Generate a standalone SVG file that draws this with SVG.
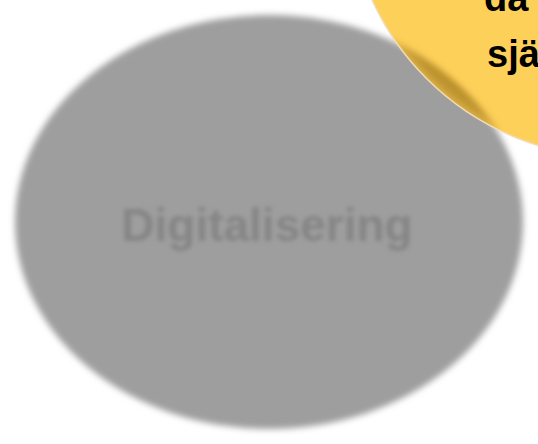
<svg xmlns="http://www.w3.org/2000/svg" width="538" height="444" viewBox="0 0 538 444">
  <defs>
    <style>
      .lbl { font-family: "Liberation Sans", Arial, sans-serif; font-weight: bold; }
    </style>
    <filter id="blurEll" x="-10%" y="-10%" width="120%" height="120%">
      <feGaussianBlur stdDeviation="3"/>
    </filter>
    <filter id="blurTxt" x="-10%" y="-30%" width="120%" height="160%">
      <feGaussianBlur stdDeviation="2.2"/>
    </filter>
    <filter id="blurBand" x="-20%" y="-20%" width="140%" height="140%">
      <feGaussianBlur stdDeviation="7"/>
    </filter>
    <clipPath id="circClip">
      <circle cx="616" cy="-111" r="268"/>
    </clipPath>
    <mask id="ellMask" maskUnits="userSpaceOnUse" x="0" y="0" width="538" height="444">
      <ellipse cx="269" cy="222" rx="254" ry="207" fill="#fff" filter="url(#blurEll)"/>
    </mask>
  </defs>
  <rect width="538" height="444" fill="#ffffff"/>

  <g id="node-digitalisering">
    <ellipse cx="269" cy="222" rx="254" ry="207" fill="#9e9e9e" filter="url(#blurEll)"/>
    <text class="lbl" x="267" y="241" font-size="46" text-anchor="middle" fill="#858585" filter="url(#blurTxt)">Digitalisering</text>
  </g>

  <g id="node-yellow">
    <circle cx="616" cy="-111" r="268" fill="#fdd05a"/>
    <g clip-path="url(#circClip)">
      <g mask="url(#ellMask)">
        <circle cx="616" cy="-111" r="254" fill="none" stroke="#8a6410" stroke-width="28" opacity="0.6" filter="url(#blurBand)"/>
      </g>
    </g>
    <circle cx="616" cy="-111" r="268" fill="none" stroke="#f2dcb8" stroke-width="1.5"/>
    <text class="lbl" x="484" y="11" font-size="38" fill="#000000">da</text>
    <text class="lbl" x="487" y="67" font-size="38" fill="#000000">sjä</text>
  </g>

  <g id="connectors"></g>
</svg>
